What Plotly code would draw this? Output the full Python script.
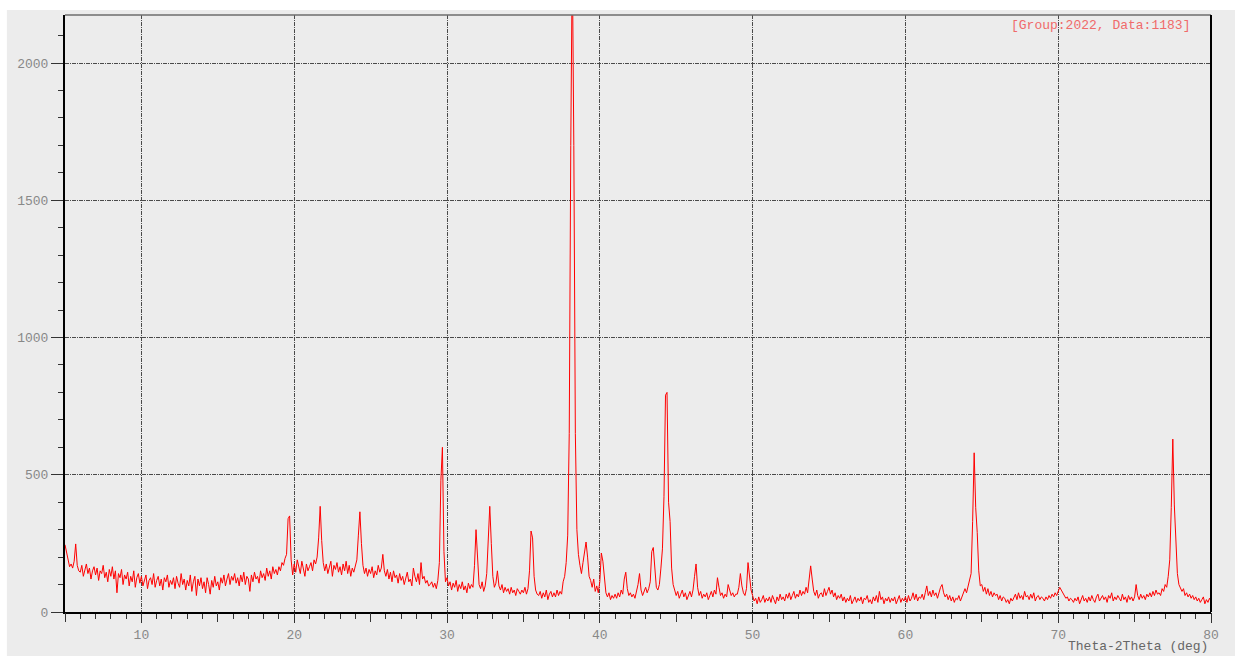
import plotly.graph_objects as go

# XRD scan: 2-theta from 5 to 80 deg, 0.1 deg step
scan_start = 5.0
scan_step = 0.1

# Measured intensity (counts), one row per degree
intensity = [
    245, 215, 190, 165, 175, 160, 185, 248, 170, 150,   # 5
    145, 170, 130, 155, 175, 140, 160, 120, 150, 165,   # 6
    135, 160, 115, 150, 140, 170, 125, 145, 110, 155,   # 7
    130, 165, 120, 150, 70, 140, 125, 155, 100, 135,    # 8
    120, 145, 95, 130, 110, 150, 90, 125, 140, 105,     # 9
    130, 95, 120, 135, 85, 115, 125, 100, 140, 90,      # 10
    115, 130, 95, 120, 80, 125, 110, 135, 90, 115,      # 11
    100, 125, 85, 130, 105, 90, 140, 100, 120, 80,      # 12
    115, 95, 135, 75, 110, 130, 60, 120, 95, 125,       # 13
    85, 110, 70, 125, 100, 65, 115, 90, 130, 95,        # 14
    110, 80, 125, 105, 135, 95, 120, 140, 100, 130,     # 15
    115, 140, 105, 125, 95, 135, 110, 145, 100, 130,    # 16
    120, 75, 135, 110, 145, 120, 130, 105, 150, 125,    # 17
    140, 115, 160, 130, 150, 120, 165, 140, 155, 135,   # 18
    165, 150, 180, 170, 195, 210, 340, 350, 190, 135,   # 19
    175, 145, 190, 160, 140, 185, 155, 130, 175, 150,   # 20
    165, 180, 150, 190, 175, 200, 270, 385, 260, 180,   # 21
    150, 175, 140, 165, 185, 130, 170, 155, 180, 145,   # 22
    165, 135, 175, 150, 185, 140, 170, 130, 160, 145,   # 23
    170, 190, 280, 365, 250, 170, 140, 160, 130, 155,   # 24
    140, 165, 125, 150, 135, 170, 145, 160, 210, 150,   # 25
    130, 155, 120, 145, 110, 150, 125, 135, 105, 140,   # 26
    115, 130, 100, 125, 145, 110, 120, 95, 160, 130,    # 27
    110, 140, 100, 180, 120, 130, 105, 115, 95, 100,    # 28
    110, 90, 105, 85, 115, 180, 480, 600, 220, 110,     # 29
    125, 95, 110, 80, 105, 90, 115, 75, 100, 85,        # 30
    110, 80, 95, 70, 105, 85, 100, 90, 170, 300,        # 31
    190, 100, 85, 110, 75, 95, 140, 260, 385, 250,      # 32
    130, 90, 105, 150, 95, 80, 100, 70, 90, 75,         # 33
    85, 65, 90, 70, 80, 60, 85, 75, 65, 80,             # 34
    70, 90, 65, 85, 150, 295, 270, 130, 80, 65,         # 35
    60, 75, 50, 70, 55, 80, 45, 65, 75, 55,             # 36
    70, 55, 80, 60, 75, 65, 110, 130, 180, 280,         # 37
    650, 1700, 2400, 1700, 650, 300, 210, 170, 140, 180,  # 38
    220, 255, 200, 130, 115, 90, 120, 75, 95, 70,       # 39
    110, 215, 185, 120, 70, 55, 70, 45, 60, 50,         # 40
    65, 50, 70, 55, 80, 65, 120, 145, 85, 60,           # 41
    70, 55, 65, 50, 75, 100, 140, 80, 60, 75,           # 42
    90, 70, 85, 110, 220, 235, 160, 90, 80, 100,        # 43
    160, 230, 420, 790, 800, 400, 330, 160, 100, 75,    # 44
    60, 75, 50, 65, 80, 55, 70, 45, 60, 75,             # 45
    55, 80, 130, 175, 90, 60, 75, 50, 65, 55,           # 46
    70, 45, 60, 75, 55, 80, 65, 125, 90, 60,            # 47
    70, 50, 65, 55, 100, 80, 60, 70, 55, 65,            # 48
    65, 90, 140, 95, 70, 60, 85, 180, 120, 80,          # 49
    60, 40, 50, 30, 55, 35, 45, 60, 35, 50,             # 50
    40, 55, 35, 60, 45, 30, 55, 40, 65, 45,             # 51
    55, 40, 65, 50, 70, 45, 60, 75, 50, 65,             # 52
    55, 80, 60, 75, 65, 90, 70, 110, 168, 120,          # 53
    75, 60, 80, 50, 65, 70, 55, 85, 60, 75,             # 54
    90, 65, 80, 55, 70, 45, 60, 50, 65, 40,             # 55
    55, 35, 50, 40, 60, 30, 45, 55, 35, 50,             # 56
    40, 55, 30, 50, 45, 60, 35, 45, 30, 55,             # 57
    40, 60, 35, 75, 45, 55, 30, 50, 40, 55,             # 58
    35, 50, 40, 55, 30, 45, 60, 35, 50, 40,             # 59
    55, 35, 60, 40, 50, 70, 45, 65, 40, 55,             # 60
    50, 65, 45, 70, 95, 60, 75, 55, 80, 60,             # 61
    70, 50, 75, 90, 100, 70, 55, 65, 45, 60,            # 62
    40, 55, 35, 50, 45, 60, 40, 55, 65, 85,             # 63
    70, 90, 120, 140, 330, 580, 380, 290, 150, 95,      # 64
    100, 75, 90, 65, 85, 60, 75, 55, 70, 60,            # 65
    65, 45, 60, 40, 55, 50, 35, 45, 30, 50,             # 66
    40, 55, 65, 45, 70, 50, 60, 45, 75, 55,             # 67
    60, 45, 65, 50, 70, 40, 55, 60, 45, 55,             # 68
    50, 40, 55, 45, 60, 50, 65, 55, 70, 60,             # 69
    75, 90, 80, 70, 60, 50, 55, 40, 50, 45,             # 70
    35, 50, 40, 55, 30, 45, 60, 40, 50, 35,             # 71
    55, 40, 60, 45, 35, 55, 65, 40, 50, 60,             # 72
    45, 55, 35, 60, 50, 70, 40, 55, 45, 60,             # 73
    50, 40, 65, 45, 55, 35, 60, 45, 55, 40,             # 74
    55, 100, 60, 45, 65, 50, 60, 45, 65, 55,            # 75
    70, 55, 75, 60, 80, 65, 70, 60, 85, 75,             # 76
    100, 90, 130, 190, 380, 630, 390, 250, 140, 100,    # 77
    90, 75, 85, 60, 70, 55, 65, 50, 60, 45,             # 78
    55, 40, 50, 35, 45, 55, 30, 45, 35, 50,             # 79
    40,                                                 # 80
]

two_theta = [round(scan_start + scan_step * i, 2) for i in range(len(intensity))]

x_range = [5, 80]
y_range = [0, 2175]
x_title = "Theta-2Theta (deg)"
info_label = "[Group:2022, Data:1183]"

MONO = "Liberation Mono, Courier New, monospace"
PANEL = "#ececec"
GRID = "#4a4a4a"

fig = go.Figure()

fig.add_trace(go.Scatter(
    x=two_theta, y=intensity, mode="lines",
    line=dict(color="#ff0000", width=1),
    showlegend=False, hoverinfo="skip",
))

# extra axis carrying the longer ticks every 5 deg
fig.add_trace(go.Scatter(x=x_range, y=[None, None], xaxis="x2",
                         showlegend=False, hoverinfo="skip"))

fig.update_layout(
    width=1235, height=656,
    margin=dict(l=65, r=24, t=15, b=44),
    paper_bgcolor=PANEL, plot_bgcolor=PANEL,
    font=dict(family=MONO, size=13, color="#888888"),
    xaxis=dict(
        range=x_range, dtick=10, tick0=0,
        showgrid=True, gridcolor=GRID, gridwidth=1, griddash="4px,1px,1px,1px",
        showline=True, linecolor="black", linewidth=2,
        ticks="outside", ticklen=9, tickcolor="#333333", tickwidth=1,
        minor=dict(dtick=1, tick0=0, ticks="outside", ticklen=5,
                   tickcolor="#333333", showgrid=False),
        zeroline=False, tickfont=dict(family=MONO, size=13, color="#888888"),
    ),
    xaxis2=dict(
        range=x_range, overlaying="x", anchor="y", side="bottom",
        dtick=5, tick0=0, ticks="outside", ticklen=9, tickcolor="#333333",
        showticklabels=False, showgrid=False, zeroline=False, showline=False,
    ),
    yaxis=dict(
        range=y_range, dtick=500, tick0=0,
        showgrid=True, gridcolor=GRID, gridwidth=1, griddash="4px,1px,1px,1px",
        showline=True, linecolor="black", linewidth=2,
        ticks="outside", ticklen=12, tickcolor="#333333", tickwidth=1,
        minor=dict(dtick=100, tick0=0, ticks="outside", ticklen=5,
                   tickcolor="#333333", showgrid=False),
        zeroline=False, tickfont=dict(family=MONO, size=13, color="#888888"),
    ),
    shapes=[
        # top and right frame
        dict(type="line", xref="paper", yref="paper", x0=0, x1=1, y0=1, y1=1,
             line=dict(color="#6e6e6e", width=1.5), layer="above"),
        dict(type="line", xref="paper", yref="paper", x0=1, x1=1, y0=0, y1=1,
             line=dict(color="black", width=2), layer="above"),
        # white page strips at top and left
        dict(type="rect", xref="paper", yref="paper",
             x0=-0.06, x1=1.03, y0=1.0085, y1=1.03,
             line=dict(width=0), fillcolor="white", layer="above"),
        dict(type="rect", xref="paper", yref="paper",
             x0=-0.06, x1=-0.0507, y0=-0.08, y1=1.03,
             line=dict(width=0), fillcolor="white", layer="above"),
    ],
    annotations=[
        dict(text=x_title, xref="paper", yref="paper", x=0.9995, y=-0.0586,
             xanchor="right", yanchor="middle", showarrow=False,
             font=dict(family=MONO, size=13, color="#666666")),
        dict(text=info_label, xref="paper", yref="paper", x=0.983, y=0.983,
             xanchor="right", yanchor="middle", showarrow=False,
             font=dict(family=MONO, size=13, color="#f06a6a")),
    ],
)

fig.write_html("out.html")
